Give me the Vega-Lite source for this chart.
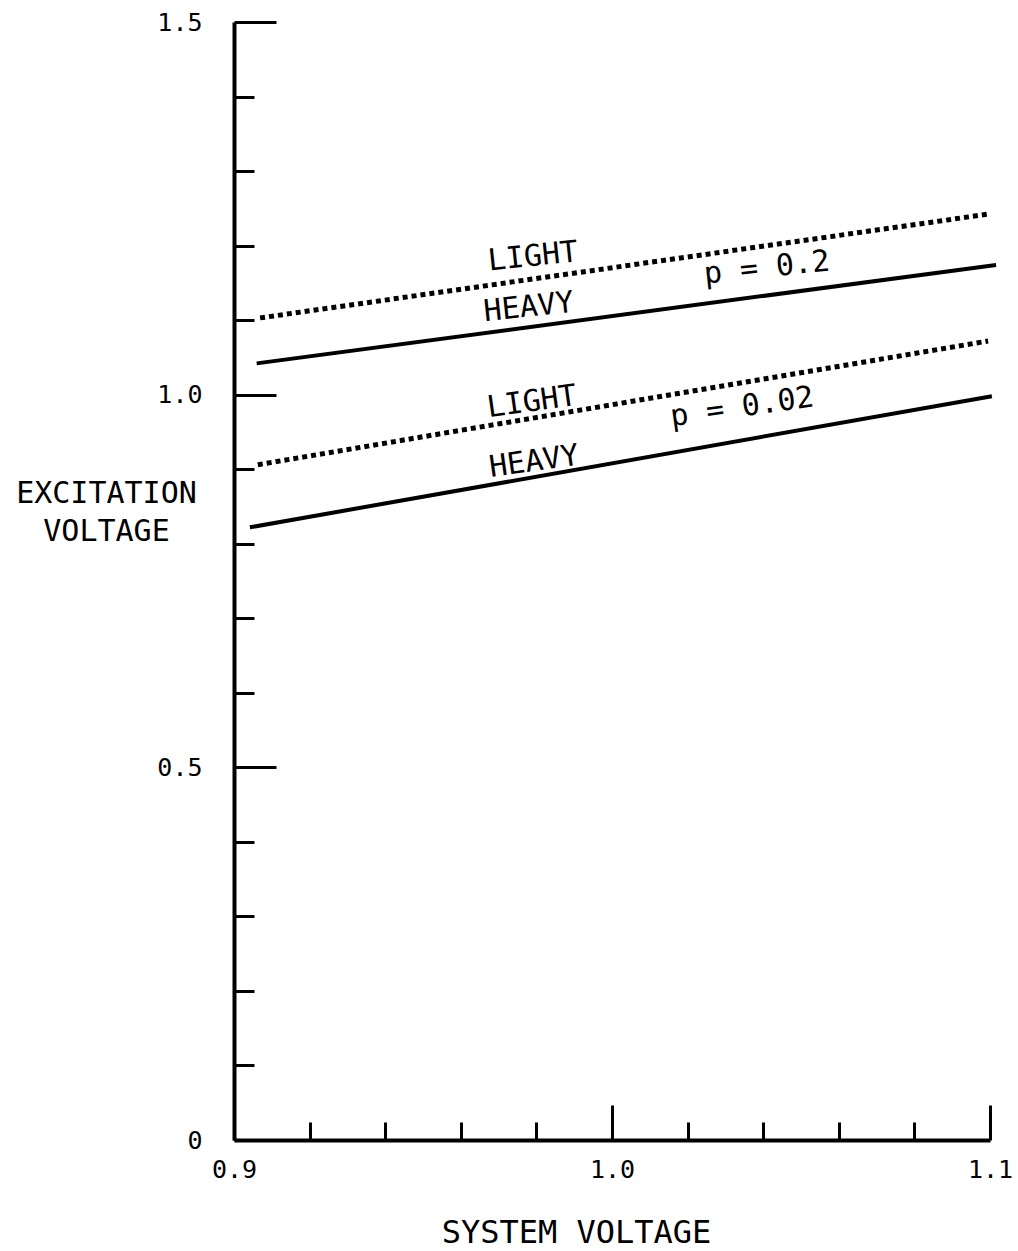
{
  "$schema": "https://vega.github.io/schema/vega-lite/v6.json",
  "width": 756,
  "height": 1118,
  "autosize": {"type": "none"},
  "padding": {"left": 234, "top": 22, "right": 28, "bottom": 111},
  "background": "white",
  "config": {"view": {"stroke": null}, "font": "DejaVu Sans Mono"},
  "datasets": {
    "lines": [
      {"series": "p02_light", "load": "LIGHT", "p": "0.2", "x": 0.9069, "y": 1.103},
      {"series": "p02_light", "load": "LIGHT", "p": "0.2", "x": 1.0992, "y": 1.242},
      {"series": "p02_heavy", "load": "HEAVY", "p": "0.2", "x": 0.906, "y": 1.042},
      {"series": "p02_heavy", "load": "HEAVY", "p": "0.2", "x": 1.1016, "y": 1.174},
      {"series": "p002_light", "load": "LIGHT", "p": "0.02", "x": 0.9063, "y": 0.906},
      {"series": "p002_light", "load": "LIGHT", "p": "0.02", "x": 1.0995, "y": 1.072},
      {"series": "p002_heavy", "load": "HEAVY", "p": "0.02", "x": 0.9042, "y": 0.822},
      {"series": "p002_heavy", "load": "HEAVY", "p": "0.02", "x": 1.1005, "y": 0.998}
    ],
    "labels": [
      {"text": "LIGHT", "p": "0.2", "x": 0.9791, "y": 1.185},
      {"text": "HEAVY", "p": "0.2", "x": 0.9780, "y": 1.117},
      {"text": "p = 0.2", "p": "0.2", "x": 1.0410, "y": 1.170},
      {"text": "LIGHT", "p": "0.02", "x": 0.9788, "y": 0.990},
      {"text": "HEAVY", "p": "0.02", "x": 0.9794, "y": 0.910},
      {"text": "p = 0.02", "p": "0.02", "x": 1.0344, "y": 0.983}
    ]
  },
  "encoding": {
    "x": {
      "field": "x",
      "type": "quantitative",
      "scale": {"domain": [0.9, 1.1], "nice": false, "zero": false},
      "axis": {
        "values": [0.9, 0.92, 0.94, 0.96, 0.98, 1.0, 1.02, 1.04, 1.06, 1.08, 1.1],
        "labelExpr": "round(datum.value*100) % 10 == 0 ? format(datum.value, '.1f') : ''",
        "labelFontSize": 25,
        "labelColor": "black",
        "labelFlush": false,
        "labelOverlap": false,
        "labelPadding": 52,
        "tickSize": {"condition": {"test": "round(datum.value*100) % 10 == 0", "value": -35}, "value": -18},
        "tickWidth": 3,
        "tickColor": "black",
        "domainWidth": 4,
        "domainColor": "black",
        "grid": false,
        "title": "SYSTEM VOLTAGE",
        "titleFontSize": 32,
        "titleFontWeight": "normal",
        "titleColor": "black",
        "titleAlign": "center",
        "titleBaseline": "alphabetic",
        "titleX": 342,
        "titleY": 102
      }
    },
    "y": {
      "field": "y",
      "type": "quantitative",
      "scale": {"domain": [0, 1.5], "nice": false, "zero": false},
      "axis": {
        "values": [0, 0.1, 0.2, 0.3, 0.4, 0.5, 0.6, 0.7, 0.8, 0.9, 1.0, 1.1, 1.2, 1.3, 1.4, 1.5],
        "labelExpr": "round(datum.value*10) % 5 == 0 ? (datum.value == 0 ? '0' : format(datum.value, '.1f')) : ''",
        "labelFontSize": 25,
        "labelColor": "black",
        "labelFlush": false,
        "labelOverlap": false,
        "labelPadding": 74,
        "tickSize": {"condition": {"test": "round(datum.value*10) % 5 == 0", "value": -42}, "value": -20},
        "tickWidth": 3,
        "tickColor": "black",
        "domainWidth": 4,
        "domainColor": "black",
        "grid": false,
        "title": ["EXCITATION", "VOLTAGE"],
        "titleFontSize": 30,
        "titleFontWeight": "normal",
        "titleColor": "black",
        "titleAngle": 0,
        "titleAlign": "center",
        "titleBaseline": "alphabetic",
        "titleLineHeight": 38,
        "titleX": -128,
        "titleY": 480
      }
    }
  },
  "layer": [
    {
      "data": {"name": "lines"},
      "transform": [{"filter": "datum.load == 'LIGHT'"}],
      "mark": {"type": "line", "color": "black", "strokeWidth": 5, "strokeDash": [5, 4]},
      "encoding": {"detail": {"field": "series"}}
    },
    {
      "data": {"name": "lines"},
      "transform": [{"filter": "datum.load == 'HEAVY'"}],
      "mark": {"type": "line", "color": "black", "strokeWidth": 4},
      "encoding": {"detail": {"field": "series"}}
    },
    {
      "data": {"name": "labels"},
      "transform": [{"filter": "datum.p == '0.2'"}],
      "mark": {"type": "text", "fontSize": 30, "color": "black", "angle": -6, "align": "center", "baseline": "middle"},
      "encoding": {"text": {"field": "text"}}
    },
    {
      "data": {"name": "labels"},
      "transform": [{"filter": "datum.p == '0.02'"}],
      "mark": {"type": "text", "fontSize": 30, "color": "black", "angle": -8, "align": "center", "baseline": "middle"},
      "encoding": {"text": {"field": "text"}}
    }
  ]
}
